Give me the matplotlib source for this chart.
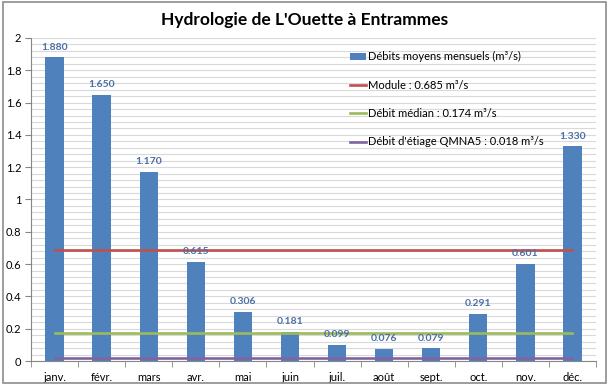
import matplotlib
matplotlib.use("Agg")
import matplotlib.pyplot as plt
from matplotlib.patches import Rectangle
from matplotlib.ticker import MultipleLocator, FixedLocator
import numpy as np

# Données : débits moyens mensuels (m3/s)
mois = ['janv.', 'févr.', 'mars', 'avr.', 'mai', 'juin',
        'juil.', 'août', 'sept.', 'oct.', 'nov.', 'déc.']
debits = [1.880, 1.650, 1.170, 0.615, 0.306, 0.181,
          0.099, 0.076, 0.079, 0.291, 0.601, 1.330]
module = 0.685
median = 0.174
qmna5 = 0.018

plt.rcParams['font.family'] = ['Lato', 'DejaVu Sans']

fig = plt.figure(figsize=(6.09, 3.87), dpi=100)
ax = fig.add_axes([31/609, 1-361/387, 565/609, 323/387])

x = np.arange(len(mois))
b = ax.bar(x, debits, width=0.39, color='#4F81BD', zorder=3,
           label='Débits moyens mensuels (m³/s)')
l1, = ax.plot([0, 11], [module, module], color='#C0504D', lw=1.9, zorder=4,
              label='Module : 0.685 m³/s')
l2, = ax.plot([0, 11], [median, median], color='#9BBB59', lw=1.9, zorder=4,
              label='Débit médian : 0.174 m³/s')
l3, = ax.plot([0, 11], [qmna5, qmna5], color='#8064A2', lw=1.9, zorder=4,
              label="Débit d'étiage QMNA5 : 0.018 m³/s")

# étiquettes au-dessus des barres
for xi, v in zip(x, debits):
    ax.annotate(f'{v:.3f}', (xi, v), xytext=(0, 4), textcoords='offset points',
                ha='center', va='bottom', fontsize=7.5, fontweight='bold',
                color='#4A6FA5', zorder=5)

ax.set_xlim(-0.5, 11.5)
ax.set_ylim(0, 2)
ax.yaxis.set_major_locator(MultipleLocator(0.2))
ax.yaxis.set_minor_locator(MultipleLocator(0.04))
ax.set_yticklabels([f'{t:g}' for t in ax.get_yticks()])
ax.grid(axis='y', which='both', color='#D9D9D9', lw=0.8, zorder=0)
ax.tick_params(axis='y', which='minor', length=0)
ax.tick_params(axis='y', which='major', length=4, color='#868686', labelsize=8, pad=3)

ax.set_xticks(x)
ax.set_xticklabels(mois)
ax.xaxis.set_minor_locator(FixedLocator(np.arange(-0.5, 12, 1)))
ax.tick_params(axis='x', which='major', length=0, labelsize=8, pad=8)
ax.tick_params(axis='x', which='minor', length=4, color='#868686')

for s in ['top', 'right']:
    ax.spines[s].set_visible(False)
for s in ['left', 'bottom']:
    ax.spines[s].set_color('#868686')
    ax.spines[s].set_linewidth(0.8)

ax.legend(handles=[b, l1, l2, l3], loc='upper left',
          bbox_to_anchor=(315/565, 1-9/323), frameon=False,
          fontsize=8, handlelength=1.4, handleheight=0.5, handletextpad=0.2,
          labelspacing=1.55, borderaxespad=0)

fig.text(0.5, 1-20/387, "Hydrologie de L'Ouette à Entrammes", ha='center',
         va='center', fontsize=12.5, fontweight='bold', color='#000000')

# cadre du graphique
fig.patches.append(Rectangle((3/609, 1-383/387), 603/609, 381/387,
                             transform=fig.transFigure, fill=False,
                             edgecolor='#8C8C8C', lw=1.2))

fig.savefig('out.png', dpi=100)
